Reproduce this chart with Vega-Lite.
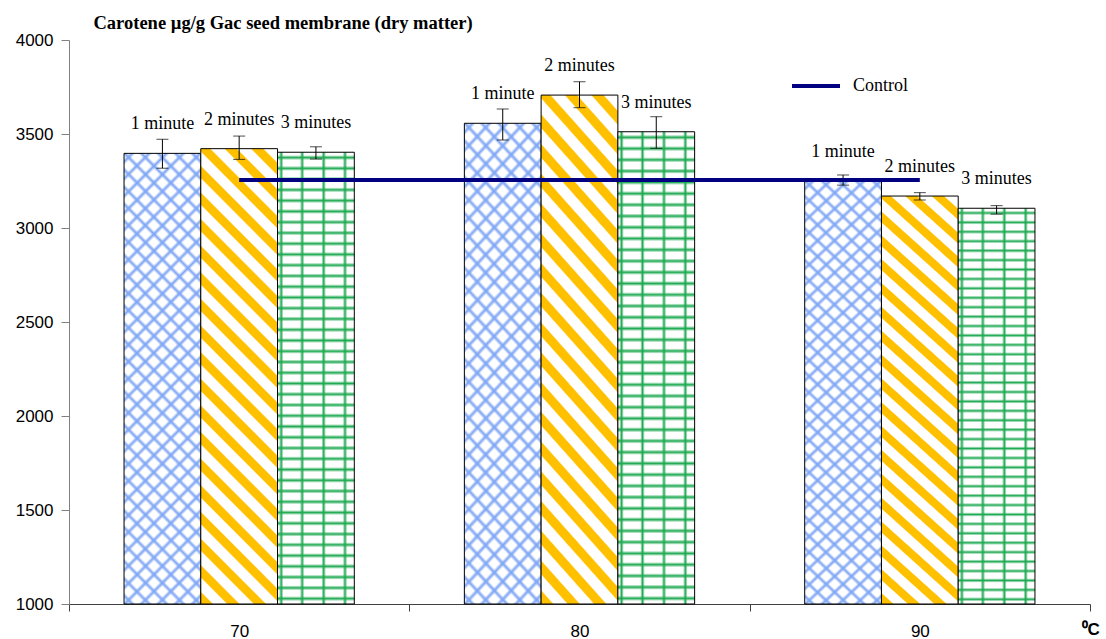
{
  "$schema": "https://vega.github.io/schema/vega-lite/v6.json",
  "width": 1021,
  "height": 564,
  "autosize": {"type": "none"},
  "padding": {"left": 69, "top": 40, "right": 16, "bottom": 35},
  "background": "white",
  "config": {
    "view": {"stroke": null},
    "axisX": {"titleFont": "Liberation Sans", "titleFontSize": 17, "titleFontWeight": "bold", "titleColor": "#000000", "titleX": 1012, "titleY": 30, "titleAlign": "left", "titleBaseline": "alphabetic", "labelAngle": 0, "labelFont": "Liberation Sans", "labelFontSize": 17, "labelColor": "#000000", "labelPadding": 12, "tickBand": "extent", "tickSize": 7, "tickColor": "#404040", "domainColor": "#404040", "grid": false},
    "axisY": {"titleFont": "Liberation Serif", "titleFontSize": 18.5, "titleFontWeight": "bold", "titleColor": "#000000", "titleAngle": 0, "titleX": 24, "titleY": -12, "titleAlign": "left", "titleBaseline": "alphabetic", "tickCount": 6, "format": "d", "labelFont": "Liberation Sans", "labelFontSize": 17, "labelColor": "#000000", "labelPadding": 8, "tickSize": 8, "tickColor": "#808080", "domainColor": "#808080", "grid": false}
  },
  "datasets": {
    "bars": [
      {"temp": "70", "duration": "1 minute", "value": 3397, "lo": 3318, "hi": 3472},
      {"temp": "70", "duration": "2 minutes", "value": 3422, "lo": 3365, "hi": 3489},
      {"temp": "70", "duration": "3 minutes", "value": 3403, "lo": 3367, "hi": 3432},
      {"temp": "80", "duration": "1 minute", "value": 3557, "lo": 3468, "hi": 3633},
      {"temp": "80", "duration": "2 minutes", "value": 3707, "lo": 3640, "hi": 3778},
      {"temp": "80", "duration": "3 minutes", "value": 3512, "lo": 3424, "hi": 3592},
      {"temp": "90", "duration": "1 minute", "value": 3250, "lo": 3228, "hi": 3282},
      {"temp": "90", "duration": "2 minutes", "value": 3170, "lo": 3149, "hi": 3188},
      {"temp": "90", "duration": "3 minutes", "value": 3105, "lo": 3074, "hi": 3119}
    ],
    "control": [
      {"temp": "70", "value": 3255, "series": "Control"},
      {"temp": "80", "value": 3255, "series": "Control"},
      {"temp": "90", "value": 3255, "series": "Control"}
    ]
  },
  "layer": [
    {
      "data": {"name": "bars"},
      "transform": [{"filter": "datum.duration === '1 minute'"}],
      "mark": {"type": "bar", "stroke": null, "fill": {"gradient": "linear", "x1": 0, "y1": 1, "x2": 0.1947, "y2": -0.1378, "stops": [
        {"offset": 0.009, "color": "#ffffff"}, {"offset": 0.016, "color": "#7fa6f5"}, {"offset": 0.023, "color": "#ffffff"},
        {"offset": 0.041, "color": "#ffffff"}, {"offset": 0.048, "color": "#7fa6f5"}, {"offset": 0.055, "color": "#ffffff"},
        {"offset": 0.074, "color": "#ffffff"}, {"offset": 0.081, "color": "#7fa6f5"}, {"offset": 0.088, "color": "#ffffff"},
        {"offset": 0.106, "color": "#ffffff"}, {"offset": 0.113, "color": "#7fa6f5"}, {"offset": 0.120, "color": "#ffffff"},
        {"offset": 0.138, "color": "#ffffff"}, {"offset": 0.145, "color": "#7fa6f5"}, {"offset": 0.152, "color": "#ffffff"},
        {"offset": 0.170, "color": "#ffffff"}, {"offset": 0.177, "color": "#7fa6f5"}, {"offset": 0.184, "color": "#ffffff"},
        {"offset": 0.203, "color": "#ffffff"}, {"offset": 0.210, "color": "#7fa6f5"}, {"offset": 0.217, "color": "#ffffff"},
        {"offset": 0.235, "color": "#ffffff"}, {"offset": 0.242, "color": "#7fa6f5"}, {"offset": 0.249, "color": "#ffffff"},
        {"offset": 0.267, "color": "#ffffff"}, {"offset": 0.274, "color": "#7fa6f5"}, {"offset": 0.281, "color": "#ffffff"},
        {"offset": 0.299, "color": "#ffffff"}, {"offset": 0.306, "color": "#7fa6f5"}, {"offset": 0.313, "color": "#ffffff"},
        {"offset": 0.332, "color": "#ffffff"}, {"offset": 0.339, "color": "#7fa6f5"}, {"offset": 0.346, "color": "#ffffff"},
        {"offset": 0.364, "color": "#ffffff"}, {"offset": 0.371, "color": "#7fa6f5"}, {"offset": 0.378, "color": "#ffffff"},
        {"offset": 0.396, "color": "#ffffff"}, {"offset": 0.403, "color": "#7fa6f5"}, {"offset": 0.410, "color": "#ffffff"},
        {"offset": 0.428, "color": "#ffffff"}, {"offset": 0.435, "color": "#7fa6f5"}, {"offset": 0.442, "color": "#ffffff"},
        {"offset": 0.461, "color": "#ffffff"}, {"offset": 0.468, "color": "#7fa6f5"}, {"offset": 0.475, "color": "#ffffff"},
        {"offset": 0.493, "color": "#ffffff"}, {"offset": 0.500, "color": "#7fa6f5"}, {"offset": 0.507, "color": "#ffffff"},
        {"offset": 0.525, "color": "#ffffff"}, {"offset": 0.532, "color": "#7fa6f5"}, {"offset": 0.539, "color": "#ffffff"},
        {"offset": 0.558, "color": "#ffffff"}, {"offset": 0.565, "color": "#7fa6f5"}, {"offset": 0.572, "color": "#ffffff"},
        {"offset": 0.590, "color": "#ffffff"}, {"offset": 0.597, "color": "#7fa6f5"}, {"offset": 0.604, "color": "#ffffff"},
        {"offset": 0.622, "color": "#ffffff"}, {"offset": 0.629, "color": "#7fa6f5"}, {"offset": 0.636, "color": "#ffffff"},
        {"offset": 0.654, "color": "#ffffff"}, {"offset": 0.661, "color": "#7fa6f5"}, {"offset": 0.668, "color": "#ffffff"},
        {"offset": 0.687, "color": "#ffffff"}, {"offset": 0.694, "color": "#7fa6f5"}, {"offset": 0.701, "color": "#ffffff"},
        {"offset": 0.719, "color": "#ffffff"}, {"offset": 0.726, "color": "#7fa6f5"}, {"offset": 0.733, "color": "#ffffff"},
        {"offset": 0.751, "color": "#ffffff"}, {"offset": 0.758, "color": "#7fa6f5"}, {"offset": 0.765, "color": "#ffffff"},
        {"offset": 0.783, "color": "#ffffff"}, {"offset": 0.790, "color": "#7fa6f5"}, {"offset": 0.797, "color": "#ffffff"},
        {"offset": 0.816, "color": "#ffffff"}, {"offset": 0.823, "color": "#7fa6f5"}, {"offset": 0.830, "color": "#ffffff"},
        {"offset": 0.848, "color": "#ffffff"}, {"offset": 0.855, "color": "#7fa6f5"}, {"offset": 0.862, "color": "#ffffff"},
        {"offset": 0.880, "color": "#ffffff"}, {"offset": 0.887, "color": "#7fa6f5"}, {"offset": 0.894, "color": "#ffffff"},
        {"offset": 0.912, "color": "#ffffff"}, {"offset": 0.919, "color": "#7fa6f5"}, {"offset": 0.926, "color": "#ffffff"},
        {"offset": 0.945, "color": "#ffffff"}, {"offset": 0.952, "color": "#7fa6f5"}, {"offset": 0.959, "color": "#ffffff"},
        {"offset": 0.977, "color": "#ffffff"}, {"offset": 0.984, "color": "#7fa6f5"}, {"offset": 0.991, "color": "#ffffff"}
      ]}},
      "encoding": {
        "x": {"field": "temp", "type": "nominal", "title": "⁰C", "scale": {"domain": ["70", "80", "90"], "paddingInner": 0, "paddingOuter": 0}},
        "xOffset": {"field": "duration", "type": "nominal", "scale": {"domain": ["1 minute", "2 minutes", "3 minutes"], "paddingInner": 0, "paddingOuter": 0.717}},
        "y": {"field": "value", "type": "quantitative", "title": "Carotene µg/g Gac seed membrane (dry matter)", "scale": {"domain": [1000, 4000], "nice": false, "zero": false}},
        "y2": {"datum": 1000}
      }
    },
    {
      "data": {"name": "bars"},
      "transform": [{"filter": "datum.duration === '1 minute'"}],
      "mark": {"type": "bar", "stroke": "#000000", "strokeWidth": 1, "fill": {"gradient": "linear", "x1": 0, "y1": 0, "x2": 0.1947, "y2": 1.1378, "stops": [
        {"offset": 0.009, "color": "rgba(127,166,245,0)"}, {"offset": 0.016, "color": "#7fa6f5"}, {"offset": 0.023, "color": "rgba(127,166,245,0)"},
        {"offset": 0.041, "color": "rgba(127,166,245,0)"}, {"offset": 0.048, "color": "#7fa6f5"}, {"offset": 0.055, "color": "rgba(127,166,245,0)"},
        {"offset": 0.074, "color": "rgba(127,166,245,0)"}, {"offset": 0.081, "color": "#7fa6f5"}, {"offset": 0.088, "color": "rgba(127,166,245,0)"},
        {"offset": 0.106, "color": "rgba(127,166,245,0)"}, {"offset": 0.113, "color": "#7fa6f5"}, {"offset": 0.120, "color": "rgba(127,166,245,0)"},
        {"offset": 0.138, "color": "rgba(127,166,245,0)"}, {"offset": 0.145, "color": "#7fa6f5"}, {"offset": 0.152, "color": "rgba(127,166,245,0)"},
        {"offset": 0.170, "color": "rgba(127,166,245,0)"}, {"offset": 0.177, "color": "#7fa6f5"}, {"offset": 0.184, "color": "rgba(127,166,245,0)"},
        {"offset": 0.203, "color": "rgba(127,166,245,0)"}, {"offset": 0.210, "color": "#7fa6f5"}, {"offset": 0.217, "color": "rgba(127,166,245,0)"},
        {"offset": 0.235, "color": "rgba(127,166,245,0)"}, {"offset": 0.242, "color": "#7fa6f5"}, {"offset": 0.249, "color": "rgba(127,166,245,0)"},
        {"offset": 0.267, "color": "rgba(127,166,245,0)"}, {"offset": 0.274, "color": "#7fa6f5"}, {"offset": 0.281, "color": "rgba(127,166,245,0)"},
        {"offset": 0.299, "color": "rgba(127,166,245,0)"}, {"offset": 0.306, "color": "#7fa6f5"}, {"offset": 0.313, "color": "rgba(127,166,245,0)"},
        {"offset": 0.332, "color": "rgba(127,166,245,0)"}, {"offset": 0.339, "color": "#7fa6f5"}, {"offset": 0.346, "color": "rgba(127,166,245,0)"},
        {"offset": 0.364, "color": "rgba(127,166,245,0)"}, {"offset": 0.371, "color": "#7fa6f5"}, {"offset": 0.378, "color": "rgba(127,166,245,0)"},
        {"offset": 0.396, "color": "rgba(127,166,245,0)"}, {"offset": 0.403, "color": "#7fa6f5"}, {"offset": 0.410, "color": "rgba(127,166,245,0)"},
        {"offset": 0.428, "color": "rgba(127,166,245,0)"}, {"offset": 0.435, "color": "#7fa6f5"}, {"offset": 0.442, "color": "rgba(127,166,245,0)"},
        {"offset": 0.461, "color": "rgba(127,166,245,0)"}, {"offset": 0.468, "color": "#7fa6f5"}, {"offset": 0.475, "color": "rgba(127,166,245,0)"},
        {"offset": 0.493, "color": "rgba(127,166,245,0)"}, {"offset": 0.500, "color": "#7fa6f5"}, {"offset": 0.507, "color": "rgba(127,166,245,0)"},
        {"offset": 0.525, "color": "rgba(127,166,245,0)"}, {"offset": 0.532, "color": "#7fa6f5"}, {"offset": 0.539, "color": "rgba(127,166,245,0)"},
        {"offset": 0.558, "color": "rgba(127,166,245,0)"}, {"offset": 0.565, "color": "#7fa6f5"}, {"offset": 0.572, "color": "rgba(127,166,245,0)"},
        {"offset": 0.590, "color": "rgba(127,166,245,0)"}, {"offset": 0.597, "color": "#7fa6f5"}, {"offset": 0.604, "color": "rgba(127,166,245,0)"},
        {"offset": 0.622, "color": "rgba(127,166,245,0)"}, {"offset": 0.629, "color": "#7fa6f5"}, {"offset": 0.636, "color": "rgba(127,166,245,0)"},
        {"offset": 0.654, "color": "rgba(127,166,245,0)"}, {"offset": 0.661, "color": "#7fa6f5"}, {"offset": 0.668, "color": "rgba(127,166,245,0)"},
        {"offset": 0.687, "color": "rgba(127,166,245,0)"}, {"offset": 0.694, "color": "#7fa6f5"}, {"offset": 0.701, "color": "rgba(127,166,245,0)"},
        {"offset": 0.719, "color": "rgba(127,166,245,0)"}, {"offset": 0.726, "color": "#7fa6f5"}, {"offset": 0.733, "color": "rgba(127,166,245,0)"},
        {"offset": 0.751, "color": "rgba(127,166,245,0)"}, {"offset": 0.758, "color": "#7fa6f5"}, {"offset": 0.765, "color": "rgba(127,166,245,0)"},
        {"offset": 0.783, "color": "rgba(127,166,245,0)"}, {"offset": 0.790, "color": "#7fa6f5"}, {"offset": 0.797, "color": "rgba(127,166,245,0)"},
        {"offset": 0.816, "color": "rgba(127,166,245,0)"}, {"offset": 0.823, "color": "#7fa6f5"}, {"offset": 0.830, "color": "rgba(127,166,245,0)"},
        {"offset": 0.848, "color": "rgba(127,166,245,0)"}, {"offset": 0.855, "color": "#7fa6f5"}, {"offset": 0.862, "color": "rgba(127,166,245,0)"},
        {"offset": 0.880, "color": "rgba(127,166,245,0)"}, {"offset": 0.887, "color": "#7fa6f5"}, {"offset": 0.894, "color": "rgba(127,166,245,0)"},
        {"offset": 0.912, "color": "rgba(127,166,245,0)"}, {"offset": 0.919, "color": "#7fa6f5"}, {"offset": 0.926, "color": "rgba(127,166,245,0)"},
        {"offset": 0.945, "color": "rgba(127,166,245,0)"}, {"offset": 0.952, "color": "#7fa6f5"}, {"offset": 0.959, "color": "rgba(127,166,245,0)"},
        {"offset": 0.977, "color": "rgba(127,166,245,0)"}, {"offset": 0.984, "color": "#7fa6f5"}, {"offset": 0.991, "color": "rgba(127,166,245,0)"}
      ]}},
      "encoding": {
        "x": {"field": "temp", "type": "nominal", "title": "⁰C"},
        "xOffset": {"field": "duration", "type": "nominal"},
        "y": {"field": "value", "type": "quantitative", "title": "Carotene µg/g Gac seed membrane (dry matter)"},
        "y2": {"datum": 1000}
      }
    },
    {
      "data": {"name": "bars"},
      "transform": [{"filter": "datum.duration === '2 minutes'"}],
      "mark": {"type": "bar", "stroke": "#000000", "strokeWidth": 1, "fill": {"gradient": "linear", "x1": 0, "y1": 1, "x2": 0.1923, "y2": -0.1367, "stops": [
        {"offset": 0.0015, "color": "#ffc000"}, {"offset": 0.0215, "color": "#ffc000"}, {"offset": 0.0245, "color": "#ffffff"}, {"offset": 0.0485, "color": "#ffffff"},
        {"offset": 0.0515, "color": "#ffc000"}, {"offset": 0.0715, "color": "#ffc000"}, {"offset": 0.0745, "color": "#ffffff"}, {"offset": 0.0985, "color": "#ffffff"},
        {"offset": 0.1015, "color": "#ffc000"}, {"offset": 0.1215, "color": "#ffc000"}, {"offset": 0.1245, "color": "#ffffff"}, {"offset": 0.1485, "color": "#ffffff"},
        {"offset": 0.1515, "color": "#ffc000"}, {"offset": 0.1715, "color": "#ffc000"}, {"offset": 0.1745, "color": "#ffffff"}, {"offset": 0.1985, "color": "#ffffff"},
        {"offset": 0.2015, "color": "#ffc000"}, {"offset": 0.2215, "color": "#ffc000"}, {"offset": 0.2245, "color": "#ffffff"}, {"offset": 0.2485, "color": "#ffffff"},
        {"offset": 0.2515, "color": "#ffc000"}, {"offset": 0.2715, "color": "#ffc000"}, {"offset": 0.2745, "color": "#ffffff"}, {"offset": 0.2985, "color": "#ffffff"},
        {"offset": 0.3015, "color": "#ffc000"}, {"offset": 0.3215, "color": "#ffc000"}, {"offset": 0.3245, "color": "#ffffff"}, {"offset": 0.3485, "color": "#ffffff"},
        {"offset": 0.3515, "color": "#ffc000"}, {"offset": 0.3715, "color": "#ffc000"}, {"offset": 0.3745, "color": "#ffffff"}, {"offset": 0.3985, "color": "#ffffff"},
        {"offset": 0.4015, "color": "#ffc000"}, {"offset": 0.4215, "color": "#ffc000"}, {"offset": 0.4245, "color": "#ffffff"}, {"offset": 0.4485, "color": "#ffffff"},
        {"offset": 0.4515, "color": "#ffc000"}, {"offset": 0.4715, "color": "#ffc000"}, {"offset": 0.4745, "color": "#ffffff"}, {"offset": 0.4985, "color": "#ffffff"},
        {"offset": 0.5015, "color": "#ffc000"}, {"offset": 0.5215, "color": "#ffc000"}, {"offset": 0.5245, "color": "#ffffff"}, {"offset": 0.5485, "color": "#ffffff"},
        {"offset": 0.5515, "color": "#ffc000"}, {"offset": 0.5715, "color": "#ffc000"}, {"offset": 0.5745, "color": "#ffffff"}, {"offset": 0.5985, "color": "#ffffff"},
        {"offset": 0.6015, "color": "#ffc000"}, {"offset": 0.6215, "color": "#ffc000"}, {"offset": 0.6245, "color": "#ffffff"}, {"offset": 0.6485, "color": "#ffffff"},
        {"offset": 0.6515, "color": "#ffc000"}, {"offset": 0.6715, "color": "#ffc000"}, {"offset": 0.6745, "color": "#ffffff"}, {"offset": 0.6985, "color": "#ffffff"},
        {"offset": 0.7015, "color": "#ffc000"}, {"offset": 0.7215, "color": "#ffc000"}, {"offset": 0.7245, "color": "#ffffff"}, {"offset": 0.7485, "color": "#ffffff"},
        {"offset": 0.7515, "color": "#ffc000"}, {"offset": 0.7715, "color": "#ffc000"}, {"offset": 0.7745, "color": "#ffffff"}, {"offset": 0.7985, "color": "#ffffff"},
        {"offset": 0.8015, "color": "#ffc000"}, {"offset": 0.8215, "color": "#ffc000"}, {"offset": 0.8245, "color": "#ffffff"}, {"offset": 0.8485, "color": "#ffffff"},
        {"offset": 0.8515, "color": "#ffc000"}, {"offset": 0.8715, "color": "#ffc000"}, {"offset": 0.8745, "color": "#ffffff"}, {"offset": 0.8985, "color": "#ffffff"},
        {"offset": 0.9015, "color": "#ffc000"}, {"offset": 0.9215, "color": "#ffc000"}, {"offset": 0.9245, "color": "#ffffff"}, {"offset": 0.9485, "color": "#ffffff"},
        {"offset": 0.9515, "color": "#ffc000"}, {"offset": 0.9715, "color": "#ffc000"}, {"offset": 0.9745, "color": "#ffffff"}, {"offset": 0.9985, "color": "#ffffff"}
      ]}},
      "encoding": {
        "x": {"field": "temp", "type": "nominal", "title": "⁰C"},
        "xOffset": {"field": "duration", "type": "nominal"},
        "y": {"field": "value", "type": "quantitative", "title": "Carotene µg/g Gac seed membrane (dry matter)"},
        "y2": {"datum": 1000}
      }
    },
    {
      "data": {"name": "bars"},
      "transform": [{"filter": "datum.duration === '3 minutes'"}],
      "mark": {"type": "bar", "stroke": null, "fill": {"gradient": "linear", "x1": 0, "y1": 1, "x2": 0, "y2": 0, "stops": [
        {"offset": 0.0064, "color": "#ffffff"}, {"offset": 0.0119, "color": "#1faa52"}, {"offset": 0.0174, "color": "#ffffff"},
        {"offset": 0.0302, "color": "#ffffff"}, {"offset": 0.0357, "color": "#1faa52"}, {"offset": 0.0412, "color": "#ffffff"},
        {"offset": 0.0540, "color": "#ffffff"}, {"offset": 0.0595, "color": "#1faa52"}, {"offset": 0.0650, "color": "#ffffff"},
        {"offset": 0.0778, "color": "#ffffff"}, {"offset": 0.0833, "color": "#1faa52"}, {"offset": 0.0888, "color": "#ffffff"},
        {"offset": 0.1016, "color": "#ffffff"}, {"offset": 0.1071, "color": "#1faa52"}, {"offset": 0.1126, "color": "#ffffff"},
        {"offset": 0.1255, "color": "#ffffff"}, {"offset": 0.1310, "color": "#1faa52"}, {"offset": 0.1365, "color": "#ffffff"},
        {"offset": 0.1493, "color": "#ffffff"}, {"offset": 0.1548, "color": "#1faa52"}, {"offset": 0.1603, "color": "#ffffff"},
        {"offset": 0.1731, "color": "#ffffff"}, {"offset": 0.1786, "color": "#1faa52"}, {"offset": 0.1841, "color": "#ffffff"},
        {"offset": 0.1969, "color": "#ffffff"}, {"offset": 0.2024, "color": "#1faa52"}, {"offset": 0.2079, "color": "#ffffff"},
        {"offset": 0.2207, "color": "#ffffff"}, {"offset": 0.2262, "color": "#1faa52"}, {"offset": 0.2317, "color": "#ffffff"},
        {"offset": 0.2445, "color": "#ffffff"}, {"offset": 0.2500, "color": "#1faa52"}, {"offset": 0.2555, "color": "#ffffff"},
        {"offset": 0.2683, "color": "#ffffff"}, {"offset": 0.2738, "color": "#1faa52"}, {"offset": 0.2793, "color": "#ffffff"},
        {"offset": 0.2921, "color": "#ffffff"}, {"offset": 0.2976, "color": "#1faa52"}, {"offset": 0.3031, "color": "#ffffff"},
        {"offset": 0.3159, "color": "#ffffff"}, {"offset": 0.3214, "color": "#1faa52"}, {"offset": 0.3269, "color": "#ffffff"},
        {"offset": 0.3397, "color": "#ffffff"}, {"offset": 0.3452, "color": "#1faa52"}, {"offset": 0.3507, "color": "#ffffff"},
        {"offset": 0.3635, "color": "#ffffff"}, {"offset": 0.3690, "color": "#1faa52"}, {"offset": 0.3745, "color": "#ffffff"},
        {"offset": 0.3874, "color": "#ffffff"}, {"offset": 0.3929, "color": "#1faa52"}, {"offset": 0.3984, "color": "#ffffff"},
        {"offset": 0.4112, "color": "#ffffff"}, {"offset": 0.4167, "color": "#1faa52"}, {"offset": 0.4222, "color": "#ffffff"},
        {"offset": 0.4350, "color": "#ffffff"}, {"offset": 0.4405, "color": "#1faa52"}, {"offset": 0.4460, "color": "#ffffff"},
        {"offset": 0.4588, "color": "#ffffff"}, {"offset": 0.4643, "color": "#1faa52"}, {"offset": 0.4698, "color": "#ffffff"},
        {"offset": 0.4826, "color": "#ffffff"}, {"offset": 0.4881, "color": "#1faa52"}, {"offset": 0.4936, "color": "#ffffff"},
        {"offset": 0.5064, "color": "#ffffff"}, {"offset": 0.5119, "color": "#1faa52"}, {"offset": 0.5174, "color": "#ffffff"},
        {"offset": 0.5302, "color": "#ffffff"}, {"offset": 0.5357, "color": "#1faa52"}, {"offset": 0.5412, "color": "#ffffff"},
        {"offset": 0.5540, "color": "#ffffff"}, {"offset": 0.5595, "color": "#1faa52"}, {"offset": 0.5650, "color": "#ffffff"},
        {"offset": 0.5778, "color": "#ffffff"}, {"offset": 0.5833, "color": "#1faa52"}, {"offset": 0.5888, "color": "#ffffff"},
        {"offset": 0.6016, "color": "#ffffff"}, {"offset": 0.6071, "color": "#1faa52"}, {"offset": 0.6126, "color": "#ffffff"},
        {"offset": 0.6255, "color": "#ffffff"}, {"offset": 0.6310, "color": "#1faa52"}, {"offset": 0.6365, "color": "#ffffff"},
        {"offset": 0.6493, "color": "#ffffff"}, {"offset": 0.6548, "color": "#1faa52"}, {"offset": 0.6603, "color": "#ffffff"},
        {"offset": 0.6731, "color": "#ffffff"}, {"offset": 0.6786, "color": "#1faa52"}, {"offset": 0.6841, "color": "#ffffff"},
        {"offset": 0.6969, "color": "#ffffff"}, {"offset": 0.7024, "color": "#1faa52"}, {"offset": 0.7079, "color": "#ffffff"},
        {"offset": 0.7207, "color": "#ffffff"}, {"offset": 0.7262, "color": "#1faa52"}, {"offset": 0.7317, "color": "#ffffff"},
        {"offset": 0.7445, "color": "#ffffff"}, {"offset": 0.7500, "color": "#1faa52"}, {"offset": 0.7555, "color": "#ffffff"},
        {"offset": 0.7683, "color": "#ffffff"}, {"offset": 0.7738, "color": "#1faa52"}, {"offset": 0.7793, "color": "#ffffff"},
        {"offset": 0.7921, "color": "#ffffff"}, {"offset": 0.7976, "color": "#1faa52"}, {"offset": 0.8031, "color": "#ffffff"},
        {"offset": 0.8159, "color": "#ffffff"}, {"offset": 0.8214, "color": "#1faa52"}, {"offset": 0.8269, "color": "#ffffff"},
        {"offset": 0.8397, "color": "#ffffff"}, {"offset": 0.8452, "color": "#1faa52"}, {"offset": 0.8507, "color": "#ffffff"},
        {"offset": 0.8635, "color": "#ffffff"}, {"offset": 0.8690, "color": "#1faa52"}, {"offset": 0.8745, "color": "#ffffff"},
        {"offset": 0.8874, "color": "#ffffff"}, {"offset": 0.8929, "color": "#1faa52"}, {"offset": 0.8984, "color": "#ffffff"},
        {"offset": 0.9112, "color": "#ffffff"}, {"offset": 0.9167, "color": "#1faa52"}, {"offset": 0.9222, "color": "#ffffff"},
        {"offset": 0.9350, "color": "#ffffff"}, {"offset": 0.9405, "color": "#1faa52"}, {"offset": 0.9460, "color": "#ffffff"},
        {"offset": 0.9588, "color": "#ffffff"}, {"offset": 0.9643, "color": "#1faa52"}, {"offset": 0.9698, "color": "#ffffff"},
        {"offset": 0.9826, "color": "#ffffff"}, {"offset": 0.9881, "color": "#1faa52"}, {"offset": 0.9936, "color": "#ffffff"}
      ]}},
      "encoding": {
        "x": {"field": "temp", "type": "nominal", "title": "⁰C"},
        "xOffset": {"field": "duration", "type": "nominal"},
        "y": {"field": "value", "type": "quantitative", "title": "Carotene µg/g Gac seed membrane (dry matter)"},
        "y2": {"datum": 1000}
      }
    },
    {
      "data": {"name": "bars"},
      "transform": [{"filter": "datum.duration === '3 minutes'"}],
      "mark": {"type": "bar", "stroke": "#000000", "strokeWidth": 1, "fill": {"gradient": "linear", "x1": 0, "y1": 0, "x2": 1, "y2": 0, "stops": [
        {"offset": 0.019, "color": "rgba(31,170,82,0)"}, {"offset": 0.048, "color": "#1faa52"}, {"offset": 0.077, "color": "rgba(31,170,82,0)"},
        {"offset": 0.292, "color": "rgba(31,170,82,0)"}, {"offset": 0.321, "color": "#1faa52"}, {"offset": 0.350, "color": "rgba(31,170,82,0)"},
        {"offset": 0.572, "color": "rgba(31,170,82,0)"}, {"offset": 0.601, "color": "#1faa52"}, {"offset": 0.630, "color": "rgba(31,170,82,0)"},
        {"offset": 0.850, "color": "rgba(31,170,82,0)"}, {"offset": 0.879, "color": "#1faa52"}, {"offset": 0.908, "color": "rgba(31,170,82,0)"}
      ]}},
      "encoding": {
        "x": {"field": "temp", "type": "nominal", "title": "⁰C"},
        "xOffset": {"field": "duration", "type": "nominal"},
        "y": {"field": "value", "type": "quantitative", "title": "Carotene µg/g Gac seed membrane (dry matter)"},
        "y2": {"datum": 1000}
      }
    },
    {
      "data": {"name": "bars"},
      "mark": {"type": "rule", "color": "#000000", "strokeWidth": 1},
      "encoding": {
        "x": {"field": "temp", "type": "nominal", "title": "⁰C"},
        "xOffset": {"field": "duration", "type": "nominal"},
        "y": {"field": "lo", "type": "quantitative", "title": "Carotene µg/g Gac seed membrane (dry matter)"},
        "y2": {"field": "hi"}
      }
    },
    {
      "data": {"name": "bars"},
      "mark": {"type": "tick", "color": "#000000", "thickness": 1, "size": 12, "orient": "horizontal"},
      "encoding": {
        "x": {"field": "temp", "type": "nominal", "title": "⁰C"},
        "xOffset": {"field": "duration", "type": "nominal"},
        "y": {"field": "lo", "type": "quantitative", "title": "Carotene µg/g Gac seed membrane (dry matter)"}
      }
    },
    {
      "data": {"name": "bars"},
      "mark": {"type": "tick", "color": "#000000", "thickness": 1, "size": 12, "orient": "horizontal"},
      "encoding": {
        "x": {"field": "temp", "type": "nominal", "title": "⁰C"},
        "xOffset": {"field": "duration", "type": "nominal"},
        "y": {"field": "hi", "type": "quantitative", "title": "Carotene µg/g Gac seed membrane (dry matter)"}
      }
    },
    {
      "data": {"name": "bars"},
      "mark": {"type": "text", "font": "Liberation Serif", "fontSize": 18, "baseline": "alphabetic", "dy": -24, "color": "#000000"},
      "encoding": {
        "x": {"field": "temp", "type": "nominal", "title": "⁰C"},
        "xOffset": {"field": "duration", "type": "nominal"},
        "y": {"field": "value", "type": "quantitative", "title": "Carotene µg/g Gac seed membrane (dry matter)"},
        "text": {"field": "duration"}
      }
    },
    {
      "data": {"name": "control"},
      "mark": {"type": "line", "strokeWidth": 4, "strokeCap": "butt"},
      "encoding": {
        "x": {"field": "temp", "type": "nominal", "title": "⁰C"},
        "y": {"field": "value", "type": "quantitative", "title": "Carotene µg/g Gac seed membrane (dry matter)"},
        "stroke": {"field": "series", "type": "nominal", "scale": {"range": ["#000080"]},
          "legend": {"orient": "none", "legendX": 721, "legendY": 20, "title": null, "padding": 0, "symbolType": "stroke", "symbolSize": 2304, "symbolStrokeWidth": 4, "symbolStrokeColor": "#000080", "labelFont": "Liberation Serif", "labelFontSize": 18, "labelColor": "#000000", "labelOffset": 11}}
      }
    }
  ]
}
